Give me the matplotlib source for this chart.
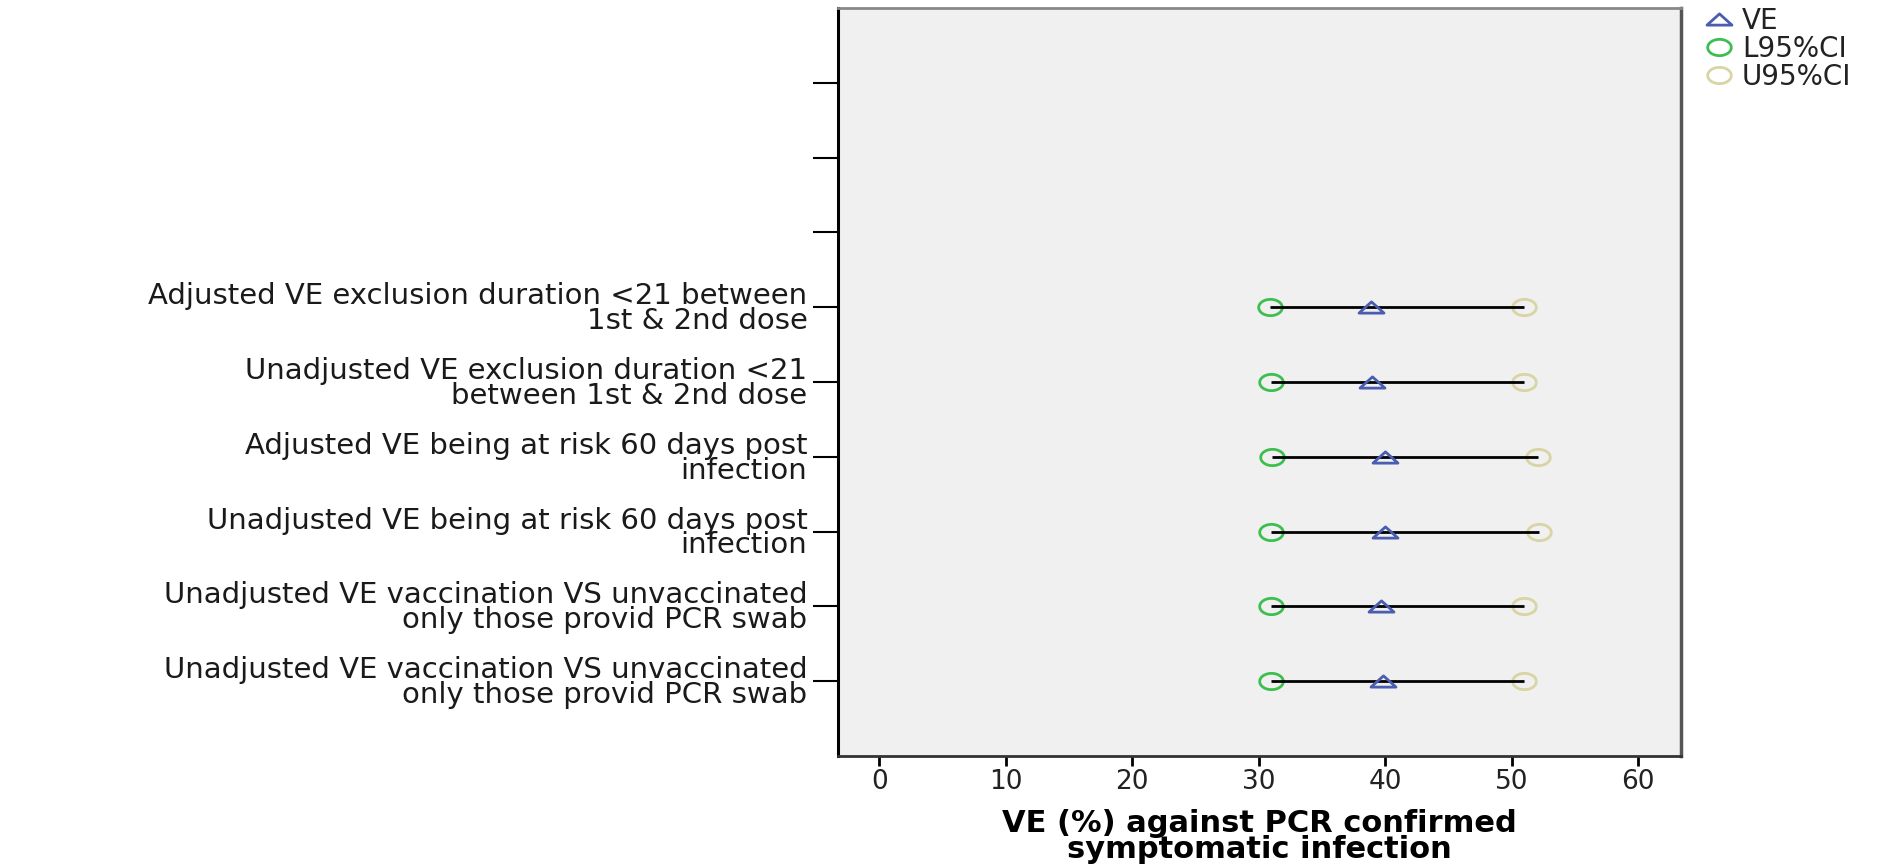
import numpy as np
import matplotlib
matplotlib.use("Agg")
import matplotlib.pyplot as plt
from matplotlib.path import Path
from matplotlib.lines import Line2D

plt.rcParams['font.family'] = ['DejaVu Sans']

# rows from bottom to top, three empty rows at the top
labels = [
    "Unadjusted VE vaccination VS unvaccinated\nonly those provid PCR swab",
    "Unadjusted VE vaccination VS unvaccinated\nonly those provid PCR swab",
    "Unadjusted VE being at risk 60 days post\ninfection",
    "Adjusted VE being at risk 60 days post\ninfection",
    "Unadjusted VE exclusion duration <21\nbetween 1st & 2nd dose",
    "Adjusted VE exclusion duration <21 between\n1st & 2nd dose",
    "", "", "",
]
ve = [39.8, 39.7, 40.0, 40.0, 39.0, 38.9]
l95 = [31.0, 31.0, 31.0, 31.1, 31.0, 30.9]
u95 = [51.0, 51.0, 52.2, 52.1, 51.0, 51.0]
xticks = [0, 10, 20, 30, 40, 50, 60]

blue = '#4a5db0'
green = '#3dbf4f'
tan = '#d9d4a4'

# wide, flat markers like the original
t = np.linspace(0, 2 * np.pi, 60)
ellipse = Path(np.column_stack([1.45 * np.cos(t), np.sin(t)]))
tri = Path([(-1, -0.45), (1, -0.45), (0, 0.45), (-1, -0.45)],
           [Path.MOVETO, Path.LINETO, Path.LINETO, Path.CLOSEPOLY])

fig = plt.figure(figsize=(18.96, 8.65), dpi=100)
ax = fig.add_axes([0.442, 0.126, 0.4446, 0.8647])
ax.set_facecolor('#f0f0f0')

pos = np.arange(1, len(labels) + 1)
n = len(ve)
ax.hlines(pos[:n], l95, u95, color='black', lw=2, zorder=3)
ax.plot(l95, pos[:n], ls='none', marker=ellipse, ms=17, mfc='none',
        mec=green, mew=2, zorder=2)
ax.plot(u95, pos[:n], ls='none', marker=ellipse, ms=17, mfc='none',
        mec=tan, mew=2, zorder=2)
ax.plot(ve, pos[:n], ls='none', marker=tri, ms=18, mfc='none',
        mec=blue, mew=2, zorder=4)

ax.set_xlim(-3.25, 63.4)
ax.set_ylim(0, 10)
ax.set_xticks(xticks)
ax.set_yticks(pos)
ax.set_yticklabels(labels, fontsize=21, linespacing=0.85, ha='right',
                   color='#1a1a1a')
ax.tick_params(axis='y', length=18, width=1.5, pad=4)
ax.tick_params(axis='x', length=7, width=2, pad=2, labelsize=19,
               labelcolor='#222222')

ax.spines['left'].set_color('black')
ax.spines['left'].set_linewidth(2.2)
ax.spines['bottom'].set_color('#333333')
ax.spines['bottom'].set_linewidth(2)
ax.spines['top'].set_color('#888888')
ax.spines['top'].set_linewidth(2)
ax.spines['right'].set_color('#555555')
ax.spines['right'].set_linewidth(2.5)

ax.set_xlabel("VE (%) against PCR confirmed\nsymptomatic infection",
              fontsize=22, fontweight='bold', linespacing=0.86, va='center')
ax.xaxis.set_label_coords(0.5, -0.108)

handles = [
    Line2D([], [], ls='none', marker=tri, ms=18, mfc='none', mec=blue, mew=2),
    Line2D([], [], ls='none', marker=ellipse, ms=17, mfc='none', mec=green, mew=2),
    Line2D([], [], ls='none', marker=ellipse, ms=17, mfc='none', mec=tan, mew=2),
]
fig.legend(handles, ["VE", "L95%CI", "U95%CI"], loc='upper left',
           bbox_to_anchor=(1706 / 1896, 1 - 7 / 865), frameon=False,
           fontsize=20, handlelength=0.9, handletextpad=0.4,
           labelspacing=0.0, borderpad=0.0, borderaxespad=0.0,
           labelcolor='#222222')

fig.savefig('out.png', dpi=100)
